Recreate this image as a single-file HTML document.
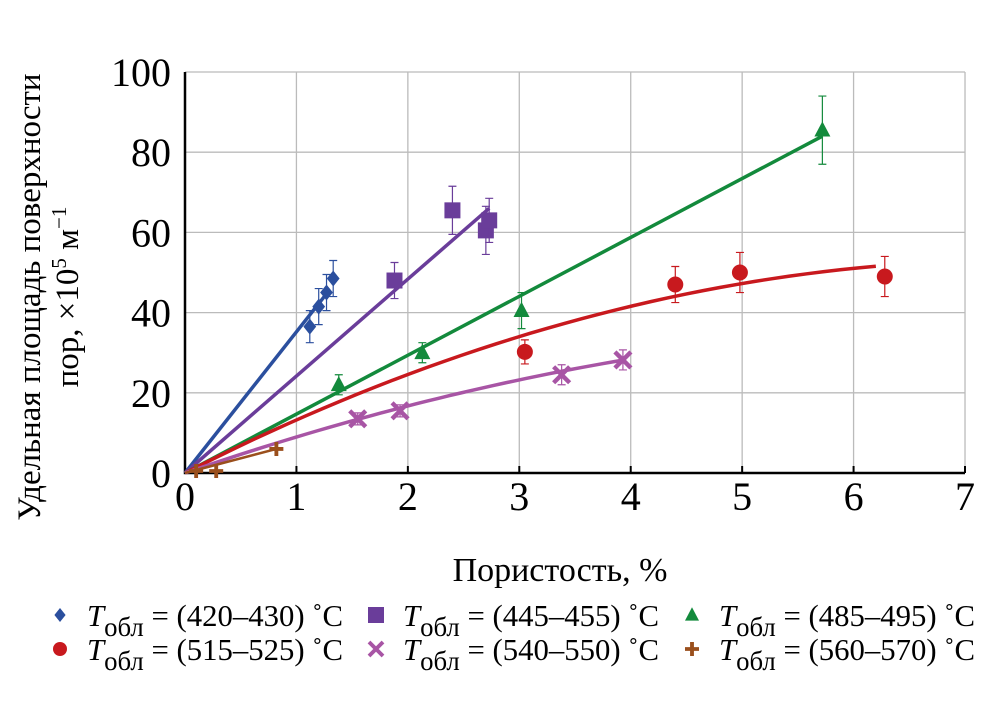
<!DOCTYPE html><html><head><meta charset="utf-8"><style>body{margin:0;background:#fff}svg{font-family:"Liberation Serif","DejaVu Serif",serif}</style></head><body>
<svg id="c" width="1004" height="697" xmlns="http://www.w3.org/2000/svg"></svg>
<script>
const xTicks=[0,1,2,3,4,5,6,7];
const yTicks=[0,20,40,60,80,100];
const blueX=[1.12,1.2,1.27,1.33], blueY=[36.5,41.5,45,48.5], blueE=[4,4.5,4.5,4.5];
const purpleX=[1.88,2.4,2.7,2.73], purpleY=[48,65.5,60.5,63], purpleE=[4.5,6,6,5.5];
const greenX=[1.38,2.13,3.02,5.72], greenY=[22,30,40.5,85.5], greenE=[2.5,2.5,4.5,8.5];
const redX=[3.05,4.4,4.98,6.28], redY=[30.2,47,50,49], redE=[3,4.5,5,5];
const pinkX=[1.55,1.93,3.38,3.93], pinkY=[13.5,15.5,24.5,28.2], pinkE=[1.5,1.5,2.5,2.5];
const brownX=[0.1,0.28,0.82], brownY=[0.5,0.5,6], brownE=[0,0,0];
const legendLabels=["(420–430)","(445–455)","(485–495)","(515–525)","(540–550)","(560–570)"];
const X0=185,XS=111.43,Y0=473,YS=4.01;
const sx=v=>X0+v*XS, sy=v=>Y0-v*YS;
const svg=document.getElementById('c');const NS="http://www.w3.org/2000/svg";
function mk(t,a,p){const e=document.createElementNS(NS,t);for(const k in a)e.setAttribute(k,a[k]);(p||svg).appendChild(e);return e;}
xTicks.forEach(t=>{if(t>0){const l=mk('line',{x1:sx(t),x2:sx(t),y1:sy(0),y2:sy(100),stroke:'#bbb','stroke-width':1.3});

}
const tx=mk('text',{x:sx(t),y:510,'font-size':40,'text-anchor':'middle'});tx.textContent=t;


const tk=mk('line',{x1:sx(t),x2:sx(t),y1:Y0,y2:Y0-7,stroke:'#000','stroke-width':2});

});
yTicks.forEach(t=>{if(t>0){const l=mk('line',{x1:X0,x2:sx(7),y1:sy(t),y2:sy(t),stroke:'#bbb','stroke-width':1.3});

}
const tx=mk('text',{x:171,y:sy(t)+14,'font-size':40,'text-anchor':'end'});tx.textContent=t;

});
const ax=mk('path',{d:`M${X0} ${sy(100)}V${Y0}H${sx(7)}`,fill:'none',stroke:'#000','stroke-width':2.5});


const xt=mk('text',{x:560,y:581,'font-size':34,'text-anchor':'middle'});xt.textContent='Пористость, %';


const yt=mk('text',{transform:'translate(40,297) rotate(-90)','font-size':33,'text-anchor':'middle'});yt.textContent='Удельная площадь поверхности';


const yt2=mk('text',{transform:'translate(78,297) rotate(-90)','font-size':33,'text-anchor':'middle'});yt2.innerHTML='пор, ×10<tspan dy="-12" font-size="21">5</tspan><tspan dy="12"> м</tspan><tspan dy="-12" font-size="21">−1</tspan>';


function line(pts,col,name,w){const p=mk('polyline',{points:pts.map(q=>sx(q[0])+','+sy(q[1])).join(' '),fill:'none',stroke:col,'stroke-width':w||3.5});

}
const lin=(xe,ye)=>[[0,0],[xe,ye]];
const quad=(a,b,xe)=>{const r=[];for(let i=0;i<=40;i++){const x=xe*i/40;r.push([x,a*x+b*x*x]);}return r;};
line(lin(1.25,44),'#2b4f9e','fit-420');
line(lin(2.73,66),'#6a3d9a','fit-445');
line(lin(5.72,84),'#138a3c','fit-485');
line(quad(14.17,-0.944,6.2),'#c8191e','fit-515');
line(quad(9.6,-0.62,3.95),'#a855a5','fit-540');
line(lin(0.82,6),'#9a4f1c','fit-560',2.5);
function marker(type,x,y,col,s,g){let e;
if(type==='d')e=mk('path',{d:`M${x} ${y-s}L${x+s*0.8} ${y}L${x} ${y+s}L${x-s*0.8} ${y}Z`,fill:col},g);
if(type==='s')e=mk('rect',{x:x-s,y:y-s,width:2*s,height:2*s,fill:col},g);
if(type==='t')e=mk('path',{d:`M${x} ${y-s*1.1}L${x+s} ${y+s*0.8}L${x-s} ${y+s*0.8}Z`,fill:col},g);
if(type==='c')e=mk('circle',{cx:x,cy:y,r:s,fill:col},g);
if(type==='x')e=mk('path',{d:`M${x-s} ${y-s}L${x+s} ${y+s}M${x+s} ${y-s}L${x-s} ${y+s}`,stroke:col,'stroke-width':s*0.55},g);
if(type==='p')e=mk('path',{d:`M${x-s} ${y}H${x+s}M${x} ${y-s}V${y+s}`,stroke:col,'stroke-width':s*0.55},g);
return e;}
function series(X,Y,E,type,col,s,name){X.forEach((v,i)=>{const x=sx(v),y=sy(Y[i]);
if(E[i]>0){const eb=mk('path',{d:`M${x} ${sy(Y[i]+E[i])}V${sy(Y[i]-E[i])}M${x-4} ${sy(Y[i]+E[i])}h8M${x-4} ${sy(Y[i]-E[i])}h8`,stroke:col,'stroke-width':1.2,fill:'none'});

}
const m=marker(type,x,y,col,s);

});}
series(blueX,blueY,blueE,'d','#2b4f9e',8,'t420');
series(purpleX,purpleY,purpleE,'s','#6a3d9a',8,'t445');
series(greenX,greenY,greenE,'t','#138a3c',8,'t485');
series(redX,redY,redE,'c','#c8191e',8,'t515');
series(pinkX,pinkY,pinkE,'x','#a855a5',8,'t540');
series(brownX,brownY,brownE,'p','#9a4f1c',7,'t560');
const types=['d','s','t','c','x','p'],cols=['#2b4f9e','#6a3d9a','#138a3c','#c8191e','#a855a5','#9a4f1c'];
const lx=[60,376,692],ly=[627,661];
legendLabels.forEach((lab,i)=>{const g=mk('g',{});


const x=lx[i%3],y=ly[Math.floor(i/3)];
marker(types[i],x,y-12,cols[i],types[i]==='s'?8:7,g);
const t=mk('text',{x:x+27,y:y-1,'font-size':31,textLength:256,lengthAdjust:'spacingAndGlyphs'},g);
t.innerHTML=`<tspan font-style="italic">T</tspan><tspan dy="10" font-size="27">обл</tspan><tspan dy="-10"> = ${lab} ˚C</tspan>`;});
</script></body></html>
